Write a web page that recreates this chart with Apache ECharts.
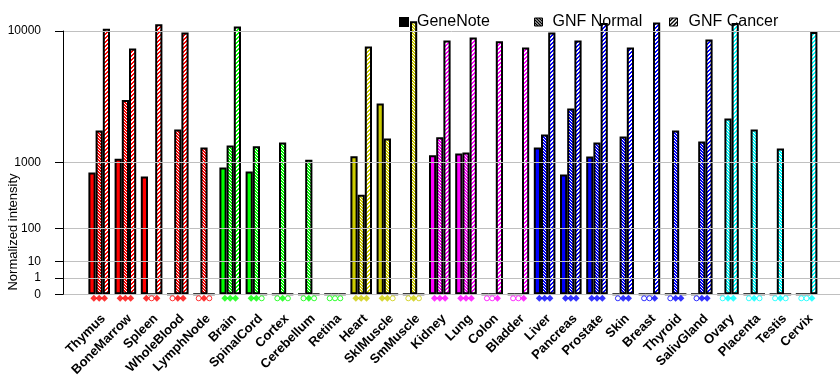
<!DOCTYPE html>
<html>
<head>
<meta charset="utf-8">
<script src="https://cdn.jsdelivr.net/npm/echarts@6/dist/echarts.min.js"></script>
<style>html,body{margin:0;padding:0;background:#fff}#c{width:840px;height:385px}</style>
</head>
<body>
<div id="c"></div>
<script>
const categories = ['Thymus','BoneMarrow','Spleen','WholeBlood','LymphNode','Brain','SpinalCord','Cortex','Cerebellum','Retina','Heart','SklMuscle','SmMuscle','Kidney','Lung','Colon','Bladder','Liver','Pancreas','Prostate','Skin','Breast','Thyroid','SalivGland','Ovary','Placenta','Testis','Cervix'];
const tissueGroup = ['A','A','A','A','A','B','B','B','B','B','C','C','C','D','D','D','D','E','E','E','E','E','E','E','F','F','F','F'];
const geneNote  = [771,1100,690,0,0, 881,793,0,0,0, 1172,3430,0, 1202,1248,0,0, 1435,730,1161,0,0,0,0, 0,0,0,0];
const gnfNormal = [2066,3640,0,2110,1435, 1500,1480,1603,1072,0, 394,1750,11270, 1800,1277,0,0, 1900,3140,1603,1825,0,2066,1637, 2610,2110,1403,0];
const gnfCancer = [10290,7960,10870,9820,0, 10590,0,0,0,0, 8180,0,0, 8850,9200,8750,8070, 9820,8850,11040,8070,11120,0,8970, 11040,0,0,9860];
const geneNoteFlag  = [1,1,1,0,0, 1,1,0,0,0, 1,1,0, 1,1,0,0, 1,1,1,0,0,0,0, 0,0,0,0];
const gnfNormalFlag = [1,1,0,1,1, 1,1,1,1,0, 1,1,1, 1,1,0,0, 1,1,1,1,0,1,1, 1,1,1,0];
const gnfCancerFlag = [1,1,1,1,0, 1,0,0,0,0, 1,0,0, 1,1,1,1, 1,1,1,1,1,1,1, 1,0,0,1];
const yTicks = [0,1,10,100,1000,10000];
const seriesNames = ['GeneNote','GNF Normal','GNF Cancer'];

// styles
const palette = {A:'#ff0000',B:'#00ff00',C:'#cccc00',D:'#ff00ff',E:'#0000ff',F:'#00ffff'};
const FONT = 'Arial, "Liberation Sans", sans-serif';
const EXP = Math.log10(2);
const t = v => Math.pow(v, EXP);

const patCache = {};
function hexToRgb(h){return [parseInt(h.substr(1,2),16),parseInt(h.substr(3,2),16),parseInt(h.substr(5,2),16)];}
function makePattern(color, kind){
  const key = color+kind;
  if (patCache[key]) return patCache[key];
  const p = kind === 'normal' ? 3 : 4;
  const cv = document.createElement('canvas');
  cv.width = p; cv.height = p;
  const ctx = cv.getContext('2d');
  const img = ctx.createImageData(p, p);
  const rgb = hexToRgb(color);
  for (let y=0;y<p;y++) for (let x=0;x<p;x++){
    let white;
    if (kind === 'normal') white = ((x - y + p*4) % p) === 0;
    else white = ((x + y) % 4) < 2;
    const i = (y*p+x)*4;
    const c = white ? [255,255,255] : rgb;
    img.data[i]=c[0]; img.data[i+1]=c[1]; img.data[i+2]=c[2]; img.data[i+3]=255;
  }
  ctx.putImageData(img,0,0);
  const pat = {image: cv, repeat: 'repeat'};
  patCache[key] = pat;
  return pat;
}

const values = [geneNote, gnfNormal, gnfCancer];
const flags = [geneNoteFlag, gnfNormalFlag, gnfCancerFlag];
const kinds = ['solid','normal','cancer'];
const markerOffsets = [-5.3, 0, 5.3];

const series = [];
// gridlines (drawn over bars)
series.push({
  type:'line', xAxisIndex:0, yAxisIndex:0, data:[], silent:true,
  markLine:{silent:true, symbol:'none', z:5, label:{show:false},
    lineStyle:{color:'#c0c0c0', type:'solid', width:1},
    data: yTicks.map(v => ({yAxis: t(v)}))}
});
values.forEach((arr, s) => {
  series.push({
    name: seriesNames[s], type:'bar', xAxisIndex:1, yAxisIndex:1,
    barWidth: 7.2, barGap: '0%', clip:false,
    data: arr.map((v,i) => {
      const col = palette[tissueGroup[i]];
      return {value: t(v), itemStyle:{color: kinds[s]==='solid' ? col : makePattern(col, kinds[s]), borderColor:'#000', borderWidth:2}};
    })
  });
});
flags.forEach((arr, s) => {
  series.push({
    name:'mk'+s, type:'scatter', xAxisIndex:1, yAxisIndex:1, clip:false, silent:true, z:6,
    symbolOffset:[markerOffsets[s], 4],
    data: arr.map((f,i) => {
      const col = palette[tissueGroup[i]];
      return f ? {value:[i,0], symbol:'diamond', symbolSize:7, itemStyle:{color:col, borderWidth:0}}
               : {value:[i,0], symbol:'circle', symbolSize:5, itemStyle:{color:'#fff', borderColor:col, borderWidth:1}};
    })
  });
});

function legendFor(name, left, icon){
  return {
    left: left, top: 14, padding:0, selectedMode:false, itemWidth: icon.w, itemHeight: icon.w, itemGap: 0,
    textStyle:{fontFamily:FONT, fontSize:16, color:'#000', padding:[0,0,0,icon.pad]},
    data:[{name:name, icon:'rect', itemStyle:icon.style}]
  };
}

const option = {
  animation:false,
  backgroundColor:'#fff',
  textStyle:{fontFamily:FONT},
  legend:[
    legendFor('GeneNote', 399, {w:10, pad:3, style:{color:'#000', borderWidth:0}}),
    legendFor('GNF Normal', 534, {w:8, pad:5, style:{color:makePattern('#000000','normal'), borderColor:'#000', borderWidth:1}}),
    legendFor('GNF Cancer', 669, {w:8, pad:6, style:{color:makePattern('#000000','cancer'), borderColor:'#000', borderWidth:1}})
  ],
  grid:[
    {left:63, right:0, top:31, bottom:90.7},
    {left:86.1, right:20.3, top:31, bottom:90.7}
  ],
  xAxis:[
    {type:'category', gridIndex:0, data:[''], show:false},
    {type:'category', gridIndex:1, data:categories,
      axisLine:{show:false}, axisTick:{show:false}, splitLine:{show:false},
      axisLabel:{interval:0, rotate:45, margin:18, fontSize:13, fontWeight:'bold', color:'#000', fontFamily:FONT,
        verticalAlign:'top', lineHeight:12}}
  ],
  yAxis:[
    {type:'value', gridIndex:0, min:0, max:16, z:10,
      axisLine:{show:true, lineStyle:{color:'#000', width:1}},
      axisTick:{show:true, length:8, lineStyle:{color:'#000'}, customValues: yTicks.map(t)},
      axisLabel:{fontSize:12, color:'#000', margin:22, fontFamily:FONT, customValues: yTicks.map(t),
        formatter: v => { const k = yTicks.findIndex(x => Math.abs(t(x)-v) < 1e-6); return k>=0 ? String(yTicks[k]) : ''; }},
      splitLine:{show:false}},
    {type:'value', gridIndex:1, min:0, max:16, show:false, splitLine:{show:false}}
  ],
  graphic:[{type:'text', x:13, y:232, rotation:Math.PI/2,
    style:{text:'Normalized intensity', fontSize:13, fontFamily:FONT, fill:'#000', textAlign:'center', textVerticalAlign:'middle'}}],
  series: series
};
const chart = echarts.init(document.getElementById('c'), null, {renderer:'canvas'});
chart.setOption(option);
</script>
</body>
</html>
